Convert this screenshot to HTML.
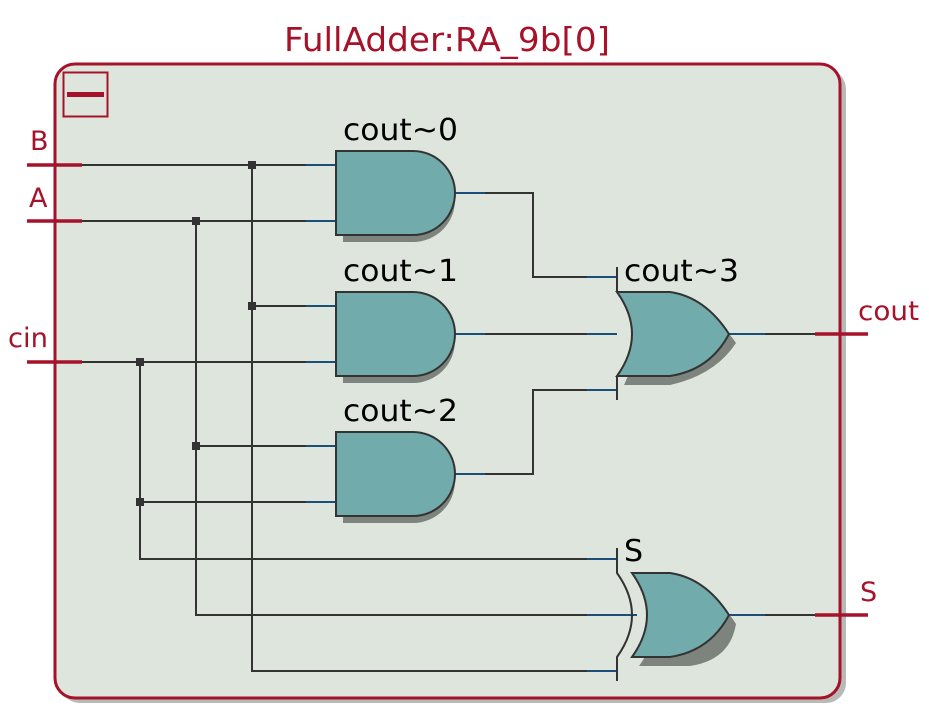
<!DOCTYPE html>
<html><head><style>body{margin:0;background:#fff}svg{display:block}</style></head><body>
<svg width="929" height="727" viewBox="0 0 929 727" xmlns="http://www.w3.org/2000/svg" font-family="'DejaVu Sans','Liberation Sans',sans-serif">
<rect x="60" y="69" width="786" height="634" rx="20" fill="#b8bab8"/>
<rect x="55" y="64" width="785" height="634" rx="20" fill="#dde5dd" stroke="#a6122a" stroke-width="3"/>
<rect x="63.5" y="72.5" width="44" height="44" fill="none" stroke="#a6122a" stroke-width="2"/>
<rect x="67" y="92" width="37" height="5" fill="#a6122a"/>
<text x="447" y="51" text-anchor="middle" font-size="33" textLength="326" lengthAdjust="spacingAndGlyphs" fill="#a6122a">FullAdder:RA_9b[0]</text>
<g fill="#a6122a" font-size="27">
<text x="30" y="150">B</text><text x="29" y="207">A</text><text x="8" y="347" textLength="40" lengthAdjust="spacingAndGlyphs">cin</text>
<text x="858" y="320" textLength="61" lengthAdjust="spacingAndGlyphs">cout</text><text x="860" y="601">S</text></g>
<g stroke="#a6122a" stroke-width="3.5">
<line x1="27" y1="165" x2="82" y2="165"/><line x1="27" y1="221" x2="82" y2="221"/><line x1="27" y1="362" x2="82" y2="362"/>
<line x1="815" y1="334" x2="868" y2="334"/><line x1="815" y1="615" x2="868" y2="615"/></g>
<g stroke="#333" stroke-width="2" fill="none">
<path d="M82 165H336M82 221H336M82 362H336"/>
<path d="M252 165V671H617M196 221V615H617M140 362V559H617"/>
<path d="M252 306H336M196 446H336M140 502H336"/>
<path d="M455 193H533V277H617M455 334H617M455 474H533V390H617"/>
<path d="M729 334H815M729 615H815"/>
</g>
<g stroke="#1a4f7a" stroke-width="2">
<path d="M306 165H336M306 221H336M306 306H336M306 362H336M306 446H336M306 502H336M587 277H617M587 334H617M587 390H617M587 559H617M587 615H637M587 671H617M455 193H485M455 334H485M455 474H485M729 334H765M729 615H765"/>
</g>
<g fill="#333"><rect x="248" y="161" width="8" height="8"/><rect x="192" y="217" width="8" height="8"/><rect x="136" y="358" width="8" height="8"/><rect x="248" y="302" width="8" height="8"/><rect x="192" y="442" width="8" height="8"/><rect x="136" y="498" width="8" height="8"/></g>
<g id="and">
<path d="M343 158H413A42 42 0 0 1 413 242H343Z" fill="#7d847d"/>
<path d="M336 151H413A42 42 0 0 1 413 235H336Z" fill="#72abab" stroke="#333" stroke-width="2"/>
</g>
<use href="#and" y="141"/><use href="#and" y="281"/>
<g fill="#000" font-size="30"><text x="343" y="140" textLength="115" lengthAdjust="spacingAndGlyphs">cout~0</text><text x="343" y="281" textLength="115" lengthAdjust="spacingAndGlyphs">cout~1</text><text x="343" y="421" textLength="115" lengthAdjust="spacingAndGlyphs">cout~2</text><text x="624" y="281" textLength="115" lengthAdjust="spacingAndGlyphs">cout~3</text><text x="624" y="561">S</text></g>
<path d="M624 301Q644 343 624 385H670Q715 375 736 343Q710 305 670 301Z" fill="#7d847d"/>
<path d="M617 292Q647 334 617 376H670Q710 370 729 334Q705 297 670 292Z" fill="#72abab" stroke="#333" stroke-width="2"/>
<path d="M617 267V292M617 376V400" stroke="#333" stroke-width="2"/>
<path d="M639 582Q669 624 639 666H690Q730 660 736 624Q712 587 690 582Z" fill="#7d847d"/>
<path d="M632 573Q662 615 632 657H670Q710 651 729 615Q705 578 670 573Z" fill="#72abab" stroke="#333" stroke-width="2"/>
<path d="M617 548V573Q647 615 617 657V681" fill="none" stroke="#333" stroke-width="2"/>
</svg>
</body></html>
